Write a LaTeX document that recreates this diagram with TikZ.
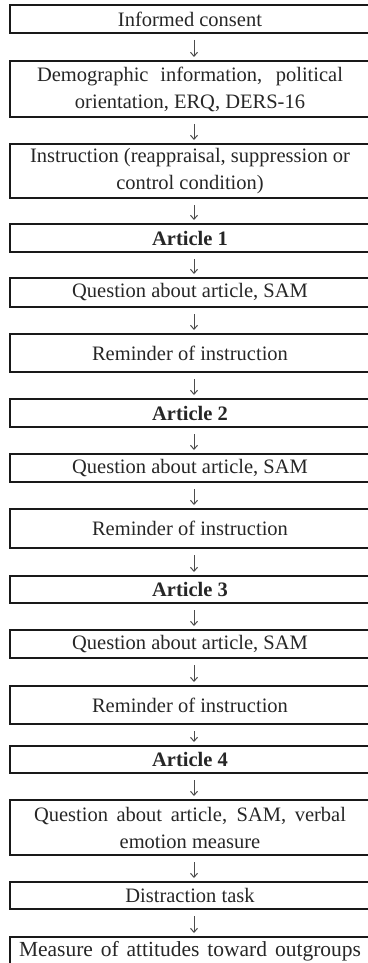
\documentclass[tikz,border=0pt]{standalone}
\usepackage{fontspec}
\setmainfont{Liberation Serif}
\usetikzlibrary{arrows.meta}

\begin{document}
\begin{tikzpicture}[x=1pt, y=1pt, >={Straight Barb[length=4pt, width=7pt]},
    stage/.style={draw=black!90, line width=2pt, minimum width=360pt, minimum height=28pt,
        inner sep=0pt, align=center, text=black!85, font=\fontsize{20.5}{27}\selectfont},
    flow/.style={->, line width=1pt, black!70, shorten <=6pt, shorten >=3pt}]
    \useasboundingbox (0,0) rectangle (367,-963);
    % procedure, top to bottom
    \node[stage] (consent) at (190,-19) {Informed consent};
    \node[stage, minimum height=56pt] (demo) at (190,-89) {\makebox[306pt][s]{Demographic information, political}\\orientation, ERQ, DERS-16};
    \node[stage, minimum height=54pt] (instr) at (190,-171) {Instruction (reappraisal, suppression or\\control condition)};
    % article 1
    \node[stage] (art1) at (190,-238) {\textbf{Article 1}};
    \node[stage, minimum height=29pt] (quest1) at (190,-292.5) {Question about article, SAM};
    \node[stage, minimum height=38pt] (remind1) at (190,-353) {Reminder of instruction};
    % article 2
    \node[stage] (art2) at (190,-413) {\textbf{Article 2}};
    \node[stage] (quest2) at (190,-468) {Question about article, SAM};
    \node[stage, minimum height=39pt] (remind2) at (190,-528.5) {Reminder of instruction};
    % article 3
    \node[stage, minimum height=27pt] (art3) at (190,-589.5) {\textbf{Article 3}};
    \node[stage] (quest3) at (190,-644) {Question about article, SAM};
    \node[stage, minimum height=38pt] (remind3) at (190,-705) {Reminder of instruction};
    % article 4
    \node[stage, minimum height=27pt] (art4) at (190,-759.5) {\textbf{Article 4}};
    \node[stage, minimum height=55pt] (quest4) at (190,-827.5) {\makebox[312pt][s]{Question about article, SAM, verbal}\\emotion measure};
    \node[stage, minimum height=27pt] (distract) at (190,-895.5) {Distraction task};
    \node[stage, font=\fontsize{21.5}{27}\selectfont] (outgroup) at (190,-951) {\makebox[342pt][s]{Measure of attitudes toward outgroups}};

    \draw[flow] ([xshift=4pt]consent.south) -- ([xshift=4pt]demo.north);
    \draw[flow] ([xshift=4pt]demo.south) -- ([xshift=4pt]instr.north);
    \draw[flow] ([xshift=4pt]instr.south) -- ([xshift=4pt]art1.north);
    \draw[flow] ([xshift=4pt]art1.south) -- ([xshift=4pt]quest1.north);
    \draw[flow] ([xshift=4pt]quest1.south) -- ([xshift=4pt]remind1.north);
    \draw[flow] ([xshift=4pt]remind1.south) -- ([xshift=4pt]art2.north);
    \draw[flow] ([xshift=4pt]art2.south) -- ([xshift=4pt]quest2.north);
    \draw[flow] ([xshift=4pt]quest2.south) -- ([xshift=4pt]remind2.north);
    \draw[flow] ([xshift=4pt]remind2.south) -- ([xshift=4pt]art3.north);
    \draw[flow] ([xshift=4pt]art3.south) -- ([xshift=4pt]quest3.north);
    \draw[flow] ([xshift=4pt]quest3.south) -- ([xshift=4pt]remind3.north);
    \draw[flow] ([xshift=4pt]remind3.south) -- ([xshift=4pt]art4.north);
    \draw[flow] ([xshift=4pt]art4.south) -- ([xshift=4pt]quest4.north);
    \draw[flow] ([xshift=4pt]quest4.south) -- ([xshift=4pt]distract.north);
    \draw[flow] ([xshift=4pt]distract.south) -- ([xshift=4pt]outgroup.north);
\end{tikzpicture}
\end{document}
